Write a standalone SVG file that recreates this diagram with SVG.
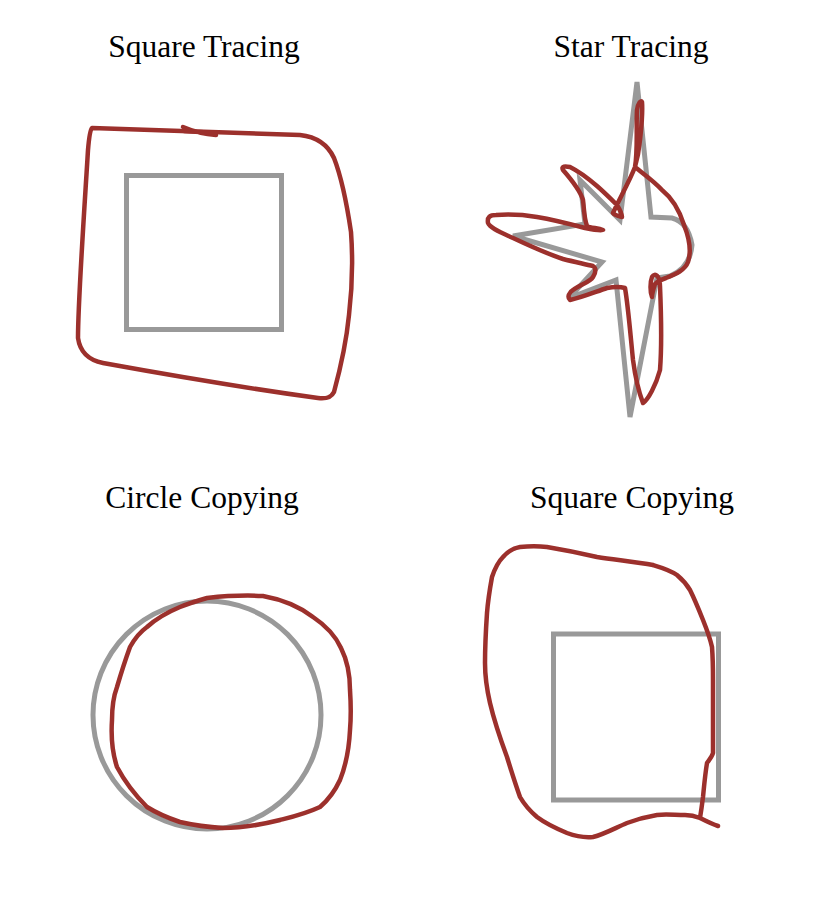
<svg xmlns="http://www.w3.org/2000/svg" width="828" height="910" viewBox="0 0 828 910">
<style>
.t{font-family:"Liberation Serif","Times New Roman",serif;font-size:31.5px;fill:#000;text-anchor:middle}
.g{fill:none;stroke:#999;stroke-width:5;stroke-linejoin:miter}
.r{fill:none;stroke:#9c302c;stroke-width:4.5;stroke-linejoin:round;stroke-linecap:round}
</style>
<rect width="828" height="910" fill="#fff"/>
<g id="square-tracing">
<text class="t" x="204" y="57">Square Tracing</text>
<rect class="g" x="126.5" y="175.5" width="155" height="154"/>
<path class="r" d="M92,128 C110,128 200,132 300,135 C318,137 328,145 334,158 C341,176 347,205 351,232 C353,260 352,290 349,315 C346,345 340,370 334,392 C331,398 326,399 318,398 C260,390 180,377 103,363 C88,360 80,352 78,338 C78,300 85,200 88,150 C89,138 90,130 92,128 Z"/>
<path class="r" d="M183,127 C190,130 200,134 216,135 M184,131 L215,133"/>
</g>
<g id="star-tracing">
<text class="t" x="631" y="57">Star Tracing</text>
<path class="g" d="M637,82 L651,217 L672,218 Q688,222 692,245 Q690,268 670,276 L657,278 L630,417 L616,280 L569,298 L602,262 L513,236 L585,224 L580,180 L620,220 Z"/>
<path class="r" d="M613,213 C620,198 630,180 635,167 C638,150 636,125 637,110 C638,103 641,100 642,102 C643,115 641,130 640,140 C639,150 637,160 635,167 C645,175 655,182 662,190 C672,198 680,212 684,225 C690,240 691,253 688,262 C685,270 676,274 666,278 C660,280 657,282 655,284 C653,290 652,295 652,297 C650,292 650,282 652,277 C655,272 660,276 660,286 C661,310 662,345 660,370 C656,385 648,400 643,403 C638,390 635,375 633,360 C630,330 628,305 625,288 C618,286 612,287 607,288 C595,292 580,298 570,300 C567,297 569,292 573,290 C580,285 590,282 593,277 C596,272 596,268 593,266 C585,264 575,262 563,259 C548,254 530,246 513,238 C500,232 490,228 488,223 C487,217 490,215 496,215 C510,214 525,215 537,217 C555,220 570,224 585,228 C595,230 602,231 603,230 C598,228 590,228 587,226 C584,218 584,208 583,200 C580,190 570,178 563,170 C561,166 565,166 570,167 C580,172 590,180 597,186 C605,193 612,200 617,205 C620,210 622,214 622,217 C618,216 614,215 613,213 Z"/>
</g>
<g id="circle-copying">
<text class="t" x="202" y="508">Circle Copying</text>
<circle class="g" cx="207" cy="715" r="114"/>
<path class="r" d="M207,598 C225,596 245,595 263,596 C285,600 300,607 313,617 C328,627 336,637 341,648 C348,662 350,675 350,690 C351,705 351,718 350,730 C349,750 346,765 340,780 C334,793 327,801 320,807 C305,814 292,817 280,820 C260,825 240,828 223,828 C205,827 193,825 180,822 C165,817 155,812 147,807 C135,795 125,782 117,767 C112,752 111,735 112,720 C112,705 114,695 117,687 C122,670 126,658 130,647 C135,638 140,632 147,627 C158,617 168,612 180,607 C190,603 200,600 207,598 Z"/>
</g>
<g id="square-copying">
<text class="t" x="632" y="508">Square Copying</text>
<rect class="g" x="553.5" y="634" width="165" height="166"/>
<path class="r" d="M718,826 C712,824 706,821 700,818 C695,816 690,815 685,815 C675,815 665,814 657,815 C645,817 635,820 627,823 C615,828 605,834 593,837 C583,838 575,836 567,833 C555,828 545,823 537,817 C530,811 524,804 520,797 C515,783 511,770 507,757 C500,738 494,720 490,703 C487,690 485,676 485,663 C485,645 486,628 487,613 C488,600 490,588 492,577 C495,568 498,562 503,557 C508,551 514,548 520,547 C530,546 538,546 547,547 C565,550 580,553 597,557 C617,560 637,562 653,565 C663,568 670,570 677,575 C683,580 687,585 690,590 C695,600 699,610 703,620 C707,630 710,638 712,647 C713,660 713,670 713,680 C713,705 713,730 713,753 C712,757 709,760 707,763 C705,775 704,787 703,797 C702,805 701,812 700,818"/>
</g>
</svg>
